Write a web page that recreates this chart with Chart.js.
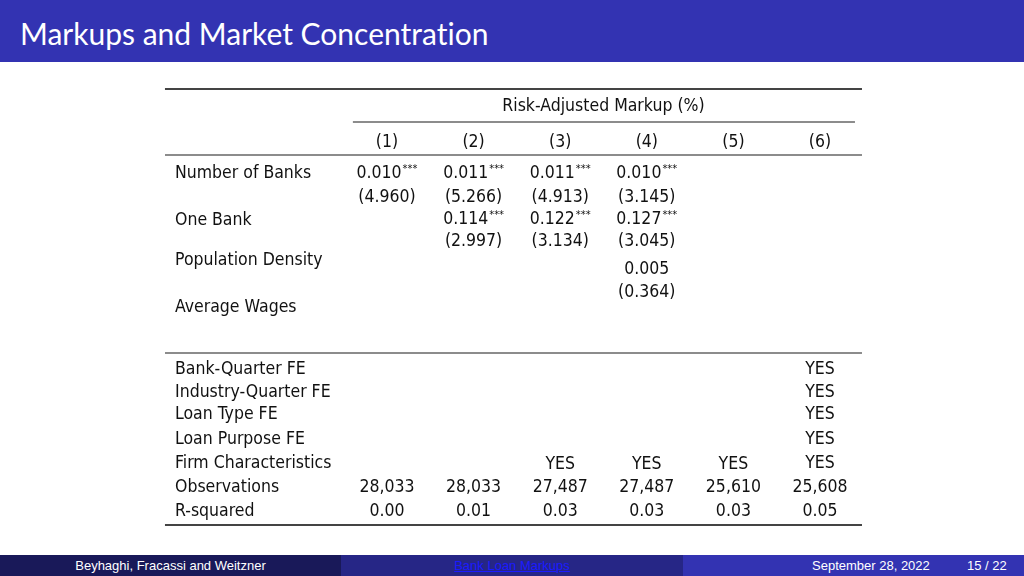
<!DOCTYPE html>
<html>
<head>
<meta charset="utf-8">
<script src="https://cdn.jsdelivr.net/npm/chart.js@4/dist/chart.umd.min.js"></script>
<style>
  html, body { margin: 0; padding: 0; background: #fff; }
  body { width: 1024px; height: 576px; position: relative; overflow: hidden; }
  .head { position: absolute; left: 0; top: 0; width: 1024px; height: 62px; background: #3333b2; }
  .head span { position: absolute; left: 20px; top: 15px; color: #fff; font: 30px Lato, "Open Sans", sans-serif;
               font-variant-ligatures: none; }
  .box { position: absolute; left: 0; top: 62px; width: 1024px; height: 493px; }
  .foot { position: absolute; left: 0; top: 555px; width: 1024px; height: 21px;
          font: 13px "Liberation Sans Narrow", "Liberation Sans", sans-serif; line-height: 21px; }
  .foot div { position: absolute; top: 0; height: 21px; }
  .f1 { left: 0; width: 341px; background: #191959; color: #fff; text-align: center; }
  .f2 { left: 341px; width: 342px; background: #262686; text-align: center; }
  .f2 a { color: #1a1aff; text-decoration: underline; }
  .f3 { left: 683px; width: 341px; background: #3333b2; color: #fff; }
</style>
</head>
<body>
<div class="head"><span>Markups and Market Concentration</span></div>
<div class="box"><canvas id="tbl"></canvas></div>
<div class="foot">
  <div class="f1">Beyhaghi, Fracassi and Weitzner</div>
  <div class="f2"><a>Bank Loan Markups</a></div>
  <div class="f3"><span style="position:absolute;left:129px">September 28, 2022</span><span style="position:absolute;left:284px">15 / 22</span></div>
</div>
<script>
// table contents
var groupTitle = 'Risk-Adjusted Markup (%)';
var colHeads = ['(1)', '(2)', '(3)', '(4)', '(5)', '(6)'];
var rowLabels = ['Number of Banks', 'One Bank', 'Population Density', 'Average Wages'];
var coefBanks = ['0.010', '0.011', '0.011', '0.010', '', ''];
var starsBanks = ['***', '***', '***', '***', '', ''];
var tBanks = ['(4.960)', '(5.266)', '(4.913)', '(3.145)', '', ''];
var coefOneBank = ['', '0.114', '0.122', '0.127', '', ''];
var starsOneBank = ['', '***', '***', '***', '', ''];
var tOneBank = ['', '(2.997)', '(3.134)', '(3.045)', '', ''];
var coefPop = ['', '', '', '0.005', '', ''];
var tPop = ['', '', '', '(0.364)', '', ''];
var controlLabels = ['Bank-Quarter FE', 'Industry-Quarter FE', 'Loan Type FE', 'Loan Purpose FE', 'Firm Characteristics'];
var controlYes = [
  ['', '', '', '', '', 'YES'],
  ['', '', '', '', '', 'YES'],
  ['', '', '', '', '', 'YES'],
  ['', '', '', '', '', 'YES'],
  ['', '', 'YES', 'YES', 'YES', 'YES']
];
var observations = ['28,033', '28,033', '27,487', '27,487', '25,610', '25,608'];
var rSquared = ['0.00', '0.01', '0.03', '0.03', '0.03', '0.05'];

// layout: x in column units (1..6 = model columns), y in text-line units
var labelX = -1.448;
var lineTop = -3.475, lineGroup = -2.076, lineHead = -0.678, lineMid = 7.71, lineBottom = 15.0;
var groupY = -2.80, headY = -1.31;
var bodyLines = { banks: [0, 1.02], one: [1.95, 2.92], pop: [4.07, 5.08] };
var labelLines = [0, 1.99, 3.69, 5.68];
var controlLines = [8.31, 9.28, 10.25, 11.27, 12.29];
var obsLine = 13.31, r2Line = 14.36;

var FONT = '"DejaVu Sans Condensed", "Liberation Sans Narrow", sans-serif';

var cells = [];
function cell(x, y, text, stars, align) {
  if (!text) return;
  cells.push({ x: x, y: y, text: text, stars: stars || '', align: align || 'center' });
}

cell(3.5, groupY, groupTitle);
colHeads.forEach(function(t, i) { cell(i + 1, headY, t); });
rowLabels.forEach(function(t, i) { cell(labelX, labelLines[i], t, '', 'left'); });
coefBanks.forEach(function(t, i) { cell(i + 1, bodyLines.banks[0], t, starsBanks[i]); });
tBanks.forEach(function(t, i) { cell(i + 1, bodyLines.banks[1], t); });
coefOneBank.forEach(function(t, i) { cell(i + 1, bodyLines.one[0], t, starsOneBank[i]); });
tOneBank.forEach(function(t, i) { cell(i + 1, bodyLines.one[1], t); });
coefPop.forEach(function(t, i) { cell(i + 1, bodyLines.pop[0], t); });
tPop.forEach(function(t, i) { cell(i + 1, bodyLines.pop[1], t); });
controlLabels.forEach(function(t, r) {
  cell(labelX, controlLines[r], t, '', 'left');
  controlYes[r].forEach(function(v, i) {
    // the YES marks in columns 3-5 sit slightly lower in the original
    cell(i + 1, controlLines[r] + (i < 5 && r === 4 ? 0.08 : 0), v);
  });
});
cell(labelX, obsLine, 'Observations', '', 'left');
observations.forEach(function(t, i) { cell(i + 1, obsLine, t); });
cell(labelX, r2Line, 'R-squared', '', 'left');
rSquared.forEach(function(t, i) { cell(i + 1, r2Line, t); });

function rule(x0, x1, y, w, color) {
  return {
    type: 'line', data: [{ x: x0, y: y }, { x: x1, y: y }],
    borderColor: color, borderWidth: w, pointRadius: 0, showLine: true
  };
}

var textPlugin = {
  id: 'cellText',
  afterDatasetsDraw: function(chart) {
    var ctx = chart.ctx;
    var meta = chart.getDatasetMeta(0);
    ctx.save();
    ctx.fillStyle = '#111';
    ctx.textBaseline = 'middle';
    meta.data.forEach(function(el, i) {
      var c = cells[i];
      ctx.font = '17.5px ' + FONT;
      var w = ctx.measureText(c.text).width;
      ctx.font = '11px ' + FONT;
      var ws = c.stars ? ctx.measureText(c.stars).width + 1 : 0;
      var x0 = c.align === 'left' ? el.x : el.x - (w + ws) / 2;
      ctx.font = '17.5px ' + FONT;
      ctx.textAlign = 'left';
      ctx.fillText(c.text, x0, el.y + 2);
      if (c.stars) {
        ctx.font = '11px ' + FONT;
        ctx.fillText(c.stars, x0 + w + 1, el.y - 2);
      }
    });
    ctx.restore();
  }
};

new Chart(document.getElementById('tbl'), {
  type: 'scatter',
  data: {
    datasets: [
      { data: cells.map(function(c) { return { x: c.x, y: c.y }; }), pointRadius: 0 },
      rule(-1.564, 6.485, lineTop, 2, '#444'),
      rule(0.606, 6.404, lineGroup, 1.5, '#666'),
      rule(-1.564, 6.485, lineHead, 1.5, '#666'),
      rule(-1.564, 6.485, lineMid, 1.5, '#666'),
      rule(-1.564, 6.485, lineBottom, 2, '#444')
    ]
  },
  options: {
    responsive: true,
    maintainAspectRatio: false,
    animation: false,
    layout: { padding: 0 },
    plugins: { legend: { display: false }, tooltip: { enabled: false } },
    scales: {
      x: { type: 'linear', display: false, min: -3.469, max: 8.356 },
      y: { type: 'linear', display: false, reverse: true, min: -4.6186, max: 16.271 }
    }
  },
  plugins: [textPlugin]
});
</script>
</body>
</html>
